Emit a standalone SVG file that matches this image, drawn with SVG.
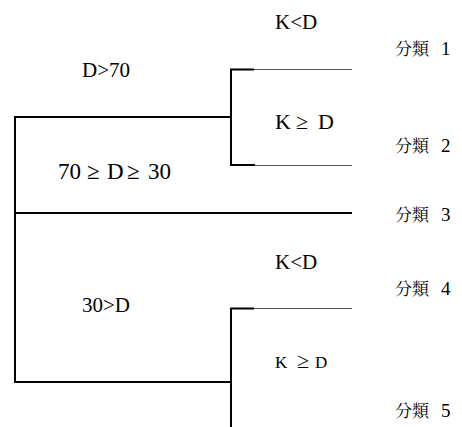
<svg xmlns="http://www.w3.org/2000/svg" width="462" height="427" viewBox="0 0 462 427">
<rect width="462" height="427" fill="#fff"/>
<g id="connectors" fill="none">
<path stroke="#000" stroke-width="2" d="M15,117 V382 M14,117 H231 M231,69.5 V165.5 M230,69.5 H254 M230,165 H255 M14,213 H352 M14,382 H231 M231,308.5 V427 M230,308.5 H254"/>
<path stroke="#555" stroke-width="1" d="M254,69.5 H352 M255,165.5 H352 M254,308.5 H352"/>
</g>
<g font-family="Liberation Serif" fill="#000">
<g id="label-d70"><text x="82" y="77" font-size="21">D&gt;70</text></g>
<g id="label-mid"><text y="178.5" font-size="23"><tspan x="58">70</tspan><tspan x="87">≥</tspan><tspan x="107">D</tspan><tspan x="127">≥</tspan><tspan x="148">30</tspan></text></g>
<g id="label-30d"><text x="82" y="311.5" font-size="21">30&gt;D</text></g>
<g id="label-klt1"><text x="275" y="29" font-size="21">K&lt;D</text></g>
<g id="label-kge1"><text y="129" font-size="22"><tspan x="275">K</tspan><tspan x="296">≥</tspan><tspan x="318">D</tspan></text></g>
<g id="label-klt2"><text x="275" y="269" font-size="21">K&lt;D</text></g>
<g id="label-kge2"><text y="368" font-size="17"><tspan x="275">K</tspan><tspan x="297" font-size="22">≥</tspan><tspan x="315">D</tspan></text></g>
</g>
<g fill="#000">
<g id="class1"><text x="395" y="55" font-family="Noto Serif CJK TC" font-size="17">分類</text><text x="441" y="55" font-family="Liberation Serif" font-size="19">1</text></g>
<g id="class2"><text x="395" y="151.5" font-family="Noto Serif CJK TC" font-size="17">分類</text><text x="441" y="151.5" font-family="Liberation Serif" font-size="19">2</text></g>
<g id="class3"><text x="395" y="220.5" font-family="Noto Serif CJK TC" font-size="17">分類</text><text x="441" y="220.5" font-family="Liberation Serif" font-size="19">3</text></g>
<g id="class4"><text x="395" y="295" font-family="Noto Serif CJK TC" font-size="17">分類</text><text x="441" y="295" font-family="Liberation Serif" font-size="19">4</text></g>
<g id="class5"><text x="395" y="416.5" font-family="Noto Serif CJK TC" font-size="17">分類</text><text x="441" y="416.5" font-family="Liberation Serif" font-size="19">5</text></g>
</g>
</svg>
